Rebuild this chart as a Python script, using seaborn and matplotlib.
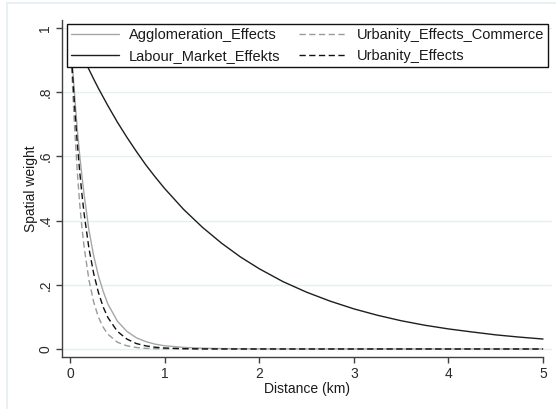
import matplotlib
matplotlib.use("Agg")
import matplotlib.pyplot as plt
import seaborn as sns
import pandas as pd
from matplotlib.lines import Line2D

# Distance grid (km) and spatial weights
distance = [0, 0.025, 0.05, 0.075, 0.1, 0.125, 0.15, 0.2, 0.25, 0.3, 0.35, 0.4,
            0.5, 0.6, 0.7, 0.8, 0.9, 1.0, 1.2, 1.4, 1.6, 1.8, 2.0, 2.25, 2.5,
            2.75, 3.0, 3.25, 3.5, 3.75, 4.0, 4.25, 4.5, 4.75, 5.0]
agglomeration = [1, 0.885, 0.785, 0.69, 0.61, 0.54, 0.478, 0.37, 0.29, 0.228,
                 0.18, 0.14, 0.087, 0.055, 0.035, 0.023, 0.015, 0.01, 0.005,
                 0.0025, 0.0012, 0.0006, 0.0003, 0, 0, 0, 0, 0, 0, 0, 0, 0,
                 0, 0, 0]
labour = [1, 0.983, 0.966, 0.949, 0.933, 0.917, 0.901, 0.871, 0.841, 0.812,
          0.785, 0.758, 0.707, 0.66, 0.616, 0.574, 0.536, 0.5, 0.435, 0.379,
          0.33, 0.287, 0.25, 0.21, 0.177, 0.149, 0.125, 0.105, 0.088, 0.074,
          0.0625, 0.053, 0.044, 0.037, 0.031]
commerce = [1, 0.825, 0.68, 0.56, 0.46, 0.38, 0.315, 0.215, 0.146, 0.099,
            0.068, 0.046, 0.021, 0.01, 0.0046, 0.0021, 0.001, 0.0005, 0.0002,
            0.0001, 0, 0, 0, 0, 0, 0, 0, 0, 0, 0, 0, 0, 0, 0, 0]
urbanity = [1, 0.865, 0.75, 0.647, 0.56, 0.484, 0.419, 0.313, 0.235, 0.176,
            0.131, 0.098, 0.055, 0.031, 0.017, 0.0097, 0.0054, 0.003, 0.001,
            0.0003, 0.0001, 0, 0, 0, 0, 0, 0, 0, 0, 0, 0, 0, 0, 0, 0]

series_names = ["Agglomeration_Effects", "Labour_Market_Effekts",
                "Urbanity_Effects_Commerce", "Urbanity_Effects"]
series_values = [agglomeration, labour, commerce, urbanity]

x_ticks = [0, 1, 2, 3, 4, 5]
y_ticks = [0, 0.2, 0.4, 0.6, 0.8, 1.0]
y_tick_labels = ["0", ".2", ".4", ".6", ".8", "1"]

sns.set_style("white")
plt.rcParams["font.family"] = ["Liberation Sans", "DejaVu Sans"]

fig = plt.figure(figsize=(5.56, 4.09), dpi=100)
fig.patch.set_facecolor("white")
ax = fig.add_axes([62 / 556, 1 - 357 / 409, 490 / 556, 337 / 409])

styles = {
    "Agglomeration_Effects": dict(color="#a6a6a6", dashes=None),
    "Labour_Market_Effekts": dict(color="#1e1e1e", dashes=None),
    "Urbanity_Effects_Commerce": dict(color="#9a9a9a", dashes=(4.5, 2.5)),
    "Urbanity_Effects": dict(color="#111111", dashes=(4.5, 2.5)),
}

handles = []
for name, vals in zip(series_names, series_values):
    df = pd.DataFrame({"Distance": distance, "Weight": vals})
    st = styles[name]
    sns.lineplot(data=df, x="Distance", y="Weight", ax=ax, color=st["color"],
                 linewidth=1.0, legend=False)
    ln = ax.lines[-1]
    if st["dashes"] is not None:
        ln.set_dashes(st["dashes"])
    h = Line2D([0], [0], color=st["color"], linewidth=1.0)
    if st["dashes"] is not None:
        h.set_dashes(st["dashes"])
    handles.append(h)

ax.set_xlim(-0.085, 5.095)
ax.set_ylim(-0.025, 1.0 + 0.025)
ax.set_xticks(x_ticks)
ax.set_xticklabels([str(t) for t in x_ticks])
ax.set_yticks(y_ticks)
ax.set_yticklabels(y_tick_labels, rotation=90, va="center")

ax.grid(axis="y", color="#e6f0f2", linewidth=1.0)
ax.grid(axis="x", visible=False)
ax.set_axisbelow(True)

for s in ["top", "right"]:
    ax.spines[s].set_visible(False)
for s in ["left", "bottom"]:
    ax.spines[s].set_color("#404040")
    ax.spines[s].set_linewidth(1.0)
ax.spines["bottom"].set_bounds(-0.085, 5.0)

ax.tick_params(axis="both", which="major", direction="out", length=4,
               width=1.0, color="#404040", labelsize=10, labelcolor="#2a2a2a",
               bottom=True, left=True, pad=3)

ax.set_xlabel("Distance (km)", fontsize=10, color="#1a1a1a", labelpad=1)
ax.set_ylabel("Spatial weight", fontsize=10, color="#1a1a1a", labelpad=0)

leg = ax.legend(handles, series_names, ncol=2, loc="upper left",
                bbox_to_anchor=(0.0096, 0.988), frameon=True, fancybox=False,
                fontsize=10.5, handlelength=3.3, handletextpad=0.65,
                columnspacing=1.3, borderpad=0.3, labelspacing=0.45,
                borderaxespad=0)
frame = leg.get_frame()
frame.set_edgecolor("#111111")
frame.set_linewidth(1.0)
frame.set_facecolor("white")
frame.set_alpha(1.0)
for t in leg.get_texts():
    t.set_color("#1a1a1a")

# light outer border lines of the graph region
fig.add_artist(Line2D([7 / 556, 1], [1 - 3 / 409, 1 - 3 / 409],
                      transform=fig.transFigure, color="#e3eef0", linewidth=1.2))
fig.add_artist(Line2D([7 / 556, 7 / 556], [0, 1 - 3 / 409],
                      transform=fig.transFigure, color="#e3eef0", linewidth=1.2))

fig.savefig("out.png", dpi=100, facecolor="white")
